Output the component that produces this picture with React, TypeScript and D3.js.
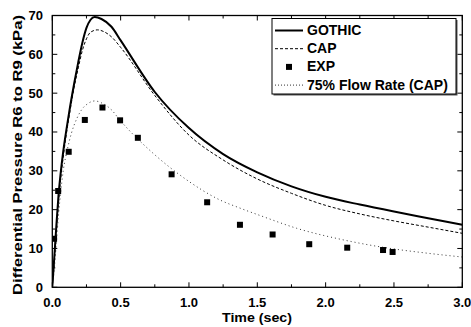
import React from "react";
import * as d3 from "d3";

const gothic: [number, number][] = [
  [0, 0], [0.015, 8], [0.03, 16], [0.045, 23.5], [0.06, 29], [0.08, 35], [0.105, 41], [0.13, 46.5],
  [0.16, 52.5], [0.19, 58], [0.22, 63], [0.25, 66.8], [0.28, 68.9], [0.31, 69.6], [0.36, 69.1],
  [0.433, 67.1], [0.5, 63.6], [0.75, 50.3], [1.0, 41.0], [1.25, 34.3], [1.5, 29.6], [1.75, 26.0],
  [2.0, 23.3], [2.25, 21.3], [2.5, 19.5], [2.75, 17.8], [3.0, 16.1],
];
const cap: [number, number][] = [
  [0, 0], [0.015, 7], [0.03, 14.5], [0.045, 21.5], [0.06, 27.5], [0.08, 33.5], [0.105, 40], [0.13, 45.5],
  [0.16, 51.5], [0.19, 56.5], [0.22, 61], [0.25, 64], [0.28, 65.7], [0.33, 66.3], [0.38, 65.8],
  [0.433, 64.5], [0.5, 61.8], [0.75, 49.4], [1.0, 39.2], [1.25, 32.8], [1.5, 27.9], [1.75, 24.2],
  [2.0, 21.1], [2.25, 18.9], [2.5, 17.1], [2.75, 15.5], [3.0, 13.9],
];
const flow75: [number, number][] = [
  [0, 0], [0.015, 5], [0.03, 11.5], [0.045, 18.5], [0.06, 24], [0.08, 30], [0.11, 35.5], [0.14, 39.7],
  [0.18, 43.5], [0.214, 45.7], [0.26, 47.3], [0.311, 48.0], [0.36, 47.5], [0.433, 45.7], [0.494, 43.1],
  [0.738, 34.5], [0.982, 27.7], [1.226, 22.5], [1.373, 20.4], [1.543, 18.2], [1.788, 15.2],
  [2.105, 12.4], [2.42, 10.3], [2.74, 8.8], [3.0, 7.8],
];
const exp: [number, number][] = [
  [0.013, 12.5], [0.043, 24.8], [0.12, 34.9], [0.238, 43.1], [0.367, 46.3], [0.496, 43.0],
  [0.626, 38.5], [0.873, 29.1], [1.133, 21.9], [1.373, 16.1], [1.612, 13.6], [1.88, 11.1],
  [2.158, 10.2], [2.42, 9.6], [2.49, 9.1],
];
const xTicks = [0, 0.5, 1.0, 1.5, 2.0, 2.5, 3.0];
const xMinor = [0.25, 0.75, 1.25, 1.75, 2.25, 2.75];
const yTicks = [0, 10, 20, 30, 40, 50, 60, 70];
const yMinor = [5, 15, 25, 35, 45, 55, 65];
const legendLabels = ["GOTHIC", "CAP", "EXP", "75% Flow Rate (CAP)"];

const W = 471, H = 327;
const L = 52.3, R = 462.3, T = 15.5, B = 287.3;
const FONT = "'Liberation Sans', Arial, sans-serif";

export default function App() {
  const x = d3.scaleLinear().domain([0, 3]).range([L, R]);
  const y = d3.scaleLinear().domain([0, 70]).range([B, T]);
  const line = d3.line<[number, number]>().x(d => x(d[0])).y(d => y(d[1])).curve(d3.curveMonotoneX);
  const fs = 13;
  const lx = 272, ly = 18.5, lw = 184, lh = 75.5;
  const rowY = (i: number) => 35 + i * 18.2;
  return (
    <svg width={W} height={H} style={{ position: "absolute", left: 0, top: 0 }} fontFamily={FONT}>
      <rect width={W} height={H} fill="#fff" />
      <defs>
        <clipPath id="plot"><rect x={L} y={T} width={R - L} height={B - T} /></clipPath>
      </defs>
      <g clipPath="url(#plot)">
        <path d={line(flow75) || ""} fill="none" stroke="#333" strokeWidth={1} strokeDasharray="1 3" />
        <path d={line(cap) || ""} fill="none" stroke="#000" strokeWidth={1} strokeDasharray="3 2" />
        <path d={line(gothic) || ""} fill="none" stroke="#000" strokeWidth={2} />
        {exp.map((d, i) => (
          <rect key={i} x={x(d[0]) - 3} y={y(d[1]) - 3} width={6} height={6} fill="#000" />
        ))}
      </g>
      <rect x={L} y={T} width={R - L} height={B - T} fill="none" stroke="#000" strokeWidth={1.3} />
      {xTicks.map((t, i) => (
        <g key={"xt" + i}>
          <line x1={x(t)} x2={x(t)} y1={B} y2={B - 5} stroke="#000" strokeWidth={1} />
          <line x1={x(t)} x2={x(t)} y1={T} y2={T + 5} stroke="#000" strokeWidth={1} />
          <text x={x(t)} y={306.5} textAnchor="middle" fontSize={fs} fontWeight="bold">{t.toFixed(1)}</text>
        </g>
      ))}
      {xMinor.map((t, i) => (
        <g key={"xm" + i}>
          <line x1={x(t)} x2={x(t)} y1={B} y2={B - 3} stroke="#000" strokeWidth={1} />
          <line x1={x(t)} x2={x(t)} y1={T} y2={T + 3} stroke="#000" strokeWidth={1} />
        </g>
      ))}
      {yTicks.map((t, i) => (
        <g key={"yt" + i}>
          <line x1={L} x2={L + 5} y1={y(t)} y2={y(t)} stroke="#000" strokeWidth={1} />
          <line x1={R} x2={R - 5} y1={y(t)} y2={y(t)} stroke="#000" strokeWidth={1} />
          <text x={43} y={y(t) + 4.5} textAnchor="end" fontSize={fs} fontWeight="bold">{t}</text>
        </g>
      ))}
      {yMinor.map((t, i) => (
        <g key={"ym" + i}>
          <line x1={L} x2={L + 3} y1={y(t)} y2={y(t)} stroke="#000" strokeWidth={1} />
          <line x1={R} x2={R - 3} y1={y(t)} y2={y(t)} stroke="#000" strokeWidth={1} />
        </g>
      ))}
      <text x={257} y={322} textAnchor="middle" fontSize={fs} fontWeight="bold" textLength={70} lengthAdjust="spacingAndGlyphs">Time (sec)</text>
      <text transform="translate(22,155) rotate(-90)" textAnchor="middle" fontSize={fs} fontWeight="bold"
        textLength={280} lengthAdjust="spacingAndGlyphs">
        Differential Pressure R6 to R9 (kPa)
      </text>
      <rect x={lx + 1.5} y={ly + 1.5} width={lw} height={lh} fill="#555" />
      <rect x={lx} y={ly} width={lw} height={lh} fill="#fff" stroke="#000" strokeWidth={1} />
      <line x1={275} x2={303} y1={rowY(0) - 4.5} y2={rowY(0) - 4.5} stroke="#000" strokeWidth={2} />
      <line x1={275} x2={303} y1={rowY(1) - 4.5} y2={rowY(1) - 4.5} stroke="#000" strokeWidth={1} strokeDasharray="3 2" />
      <rect x={286} y={rowY(2) - 7.5} width={6} height={6} fill="#000" />
      <line x1={275} x2={303} y1={rowY(3) - 4.5} y2={rowY(3) - 4.5} stroke="#333" strokeWidth={1} strokeDasharray="1 2" />
      {legendLabels.map((s, i) => (
        <text key={s} x={307} y={rowY(i)} fontSize={fs + 1} fontWeight="bold">{s}</text>
      ))}
    </svg>
  );
}
